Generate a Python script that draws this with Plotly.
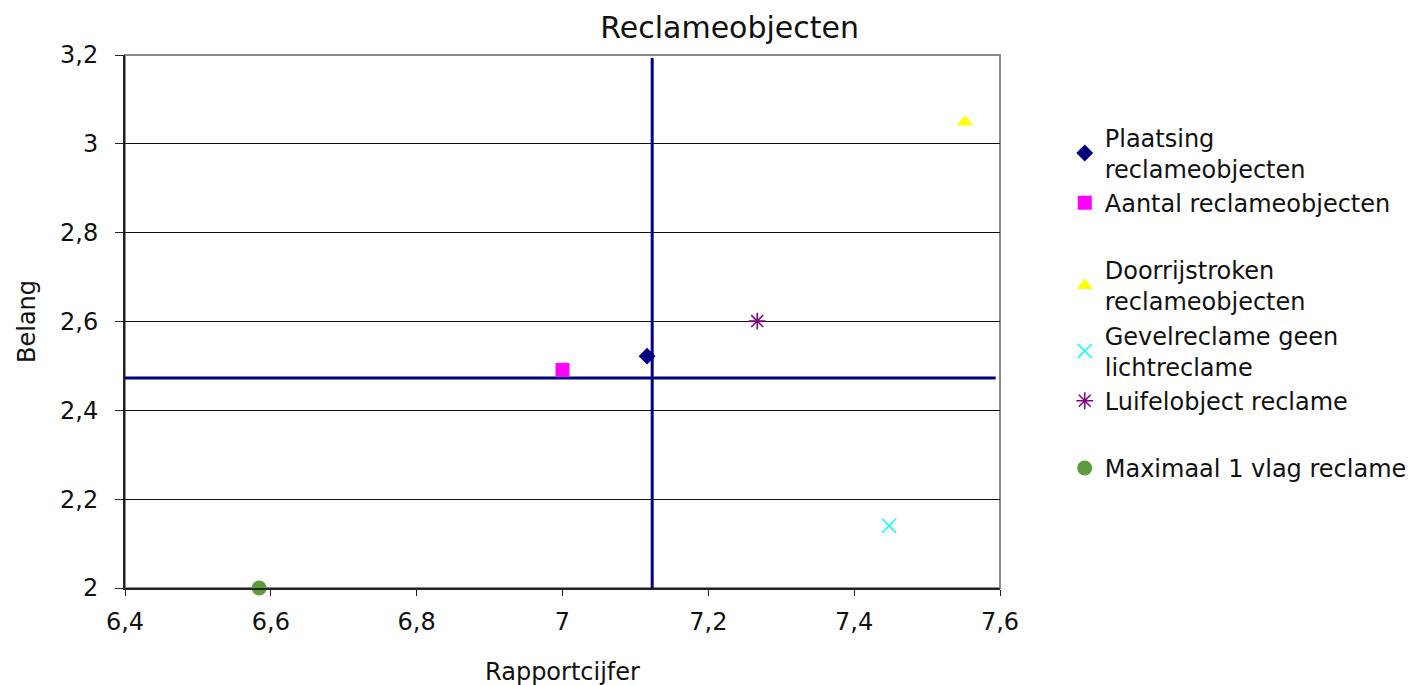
import plotly.graph_objects as go

# Data
names = ["Plaatsing<br>reclameobjecten", "Aantal reclameobjecten",
         "Doorrijstroken<br>reclameobjecten", "Gevelreclame geen<br>lichtreclame",
         "Luifelobject reclame", "Maximaal 1 vlag reclame"]
x_vals = [7.116, 7.0, 7.552, 7.448, 7.267, 6.584]
y_vals = [2.522, 2.491, 3.049, 2.14, 2.601, 2.0]
groups = ["g1", "g1", "g2", "g2", "g2", "g3"]
symbols = ["diamond", "square", "triangle-up", "x-thin", "asterisk", "circle"]
colors = ["#000080", "#FF00FF", "#FFFF00", "#00FFFF", "#800080", "#5E9A3E"]
sizes = [13, 14, 14, 14, 14, 15]

# reference (mean) lines
vline_x = [7.123, 7.123]
vline_y = [2.0, 3.193]
hline_x = [6.4, 7.594]
hline_y = [2.473, 2.473]

xticks = [6.4, 6.6, 6.8, 7.0, 7.2, 7.4, 7.6]
xtick_text = ["6,4", "6,6", "6,8", "7", "7,2", "7,4", "7,6"]
yticks = [2.0, 2.2, 2.4, 2.6, 2.8, 3.0, 3.2]
ytick_text = ["2", "2,2", "2,4", "2,6", "2,8", "3", "3,2"]

FONT = "DejaVu Sans"
TXT = "#111"
FS = 24

fig = go.Figure()

fig.add_trace(go.Scatter(x=hline_x, y=hline_y, mode="lines",
                         line=dict(color="#000080", width=3), showlegend=False,
                         hoverinfo="skip"))
fig.add_trace(go.Scatter(x=vline_x, y=vline_y, mode="lines",
                         line=dict(color="#000080", width=3), showlegend=False,
                         hoverinfo="skip"))

for n, xv, yv, g, s, c, sz in zip(names, x_vals, y_vals, groups, symbols, colors, sizes):
    line = dict(color=c, width=1.5) if s in ("x-thin", "asterisk") else dict(width=0)
    fig.add_trace(go.Scatter(x=[xv], y=[yv], mode="markers", name=n, legendgroup=g,
                             marker=dict(symbol=s, color=c, size=sz, line=line),
                             cliponaxis=False))

fig.add_shape(type="rect", xref="paper", yref="paper", x0=0, x1=1, y0=0, y1=1,
              line=dict(color="#8a8a8a", width=2), layer="below")

fig.update_layout(
    width=1416, height=685,
    margin=dict(l=117, r=422, t=47, b=105),
    paper_bgcolor="white", plot_bgcolor="white",
    font=dict(family=FONT, size=FS, color=TXT),
    title=dict(text="Reclameobjecten", x=0.691, xref="paper", xanchor="center",
               y=0.971, yref="container", yanchor="middle",
               font=dict(family=FONT, size=30, color=TXT)),
    legend=dict(x=1.074, y=0.887, xanchor="left", yanchor="top",
                traceorder="grouped", tracegroupgap=33, itemsizing="trace",
                font=dict(family=FONT, size=FS, color=TXT),
                bgcolor="rgba(0,0,0,0)", itemwidth=30),
    showlegend=True,
)

fig.update_xaxes(range=[6.4, 7.6], tickvals=xticks, ticktext=xtick_text,
                 showgrid=False, zeroline=False, showline=True,
                 linecolor="#222", linewidth=2, ticks="outside", ticklen=6,
                 tickcolor="#222", ticklabelstandoff=5,
                 tickfont=dict(family=FONT, size=FS, color=TXT),
                 title=dict(text="Rapportcijfer", font=dict(family=FONT, size=FS, color=TXT),
                            standoff=28))
fig.update_yaxes(range=[2.0, 3.2], tickvals=yticks, ticktext=ytick_text,
                 showgrid=True, gridcolor="#111", gridwidth=1, zeroline=False,
                 showline=True, linecolor="#222", linewidth=2, ticks="outside",
                 ticklen=8, tickcolor="#222", ticklabelstandoff=12,
                 tickfont=dict(family=FONT, size=FS, color=TXT),
                 title=dict(text="Belang", font=dict(family=FONT, size=FS, color=TXT),
                            standoff=18))

fig.write_html("out.html")
